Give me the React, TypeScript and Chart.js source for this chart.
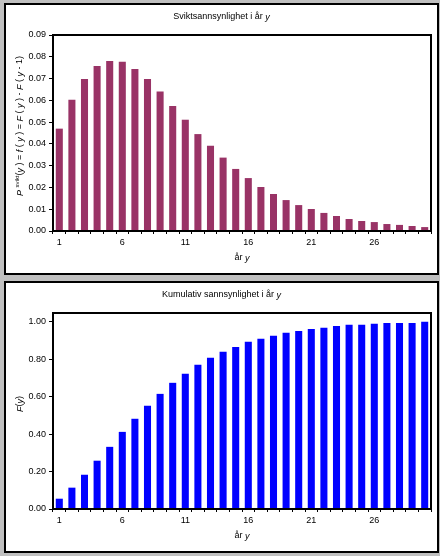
import React, { useEffect, useRef } from "react";
import { Chart, registerables } from "chart.js";

Chart.register(...registerables);

const years = ["1","2","3","4","5","6","7","8","9","10","11","12","13","14","15","16","17","18","19","20","21","22","23","24","25","26","27","28","29","30"];

const failureProb = [0.047,0.0603,0.0698,0.0758,0.0781,0.0777,0.0744,0.0698,0.064,0.0574,0.0511,0.0445,0.0392,0.0337,0.0285,0.0243,0.0202,0.017,0.0142,0.0119,0.0101,0.0083,0.0069,0.0055,0.0046,0.0041,0.0032,0.0028,0.0023,0.0018];

const cumulativeProb = [0.055,0.114,0.183,0.258,0.332,0.412,0.482,0.551,0.615,0.674,0.722,0.77,0.808,0.84,0.866,0.893,0.909,0.925,0.941,0.951,0.962,0.968,0.978,0.984,0.984,0.989,0.994,0.994,0.994,1.0];

const topYTicks = [0,0.01,0.02,0.03,0.04,0.05,0.06,0.07,0.08,0.09];
const bottomYTicks = [0,0.2,0.4,0.6,0.8,1.0];

const FONT = "'Liberation Sans', Arial, sans-serif";

type Seg = { t: string; it?: boolean; sup?: boolean };

function drawRich(ctx: CanvasRenderingContext2D, segs: Seg[], cx: number, cy: number, rot: number, size = 9) {
  ctx.save();
  ctx.translate(cx, cy);
  ctx.rotate(rot);
  ctx.fillStyle = "#000";
  ctx.textBaseline = "middle";
  ctx.textAlign = "left";
  const fontOf = (s: Seg) => `${s.it ? "italic " : ""}${s.sup ? size - 3 : size}px ${FONT}`;
  let total = 0;
  for (const s of segs) {
    ctx.font = fontOf(s);
    total += ctx.measureText(s.t).width;
  }
  let x = -total / 2;
  for (const s of segs) {
    ctx.font = fontOf(s);
    ctx.fillText(s.t, x, s.sup ? -3 : 0);
    x += ctx.measureText(s.t).width;
  }
  ctx.restore();
}

function makeChart(canvas: HTMLCanvasElement, data: number[], color: string, max: number, yTicks: number[], title: Seg[], yTitle: Seg[]) {
  const decor = {
    id: "decor",
    afterDraw(chart: any) {
      const ctx = chart.ctx as CanvasRenderingContext2D;
      const a = chart.chartArea;
      ctx.save();
      ctx.strokeStyle = "#000";
      ctx.lineWidth = 2;
      ctx.strokeRect(a.left, a.top, a.right - a.left, a.bottom - a.top);
      ctx.restore();
      drawRich(ctx, title, chart.width / 2, 12, 0);
      drawRich(ctx, [{ t: "år " }, { t: "y", it: true }], (a.left + a.right) / 2, 253, 0);
      drawRich(ctx, yTitle, 14, 121, -Math.PI / 2);
    },
  };
  return new Chart(canvas, {
    type: "bar",
    data: {
      labels: years,
      datasets: [
        {
          data,
          backgroundColor: color,
          borderWidth: 0,
          categoryPercentage: 1,
          barPercentage: 0.56,
        },
      ],
    },
    options: {
      animation: false,
      responsive: false,
      layout: { padding: { left: 0, top: 30, right: 6, bottom: 0 } },
      plugins: { legend: { display: false }, title: { display: false }, tooltip: { enabled: false } },
      scales: {
        x: {
          offset: true,
          grid: { offset: true, drawOnChartArea: false, color: "#000", lineWidth: 1, tickLength: 3 },
          border: { display: true, color: "#000", width: 2 },
          ticks: {
            autoSkip: false,
            maxRotation: 0,
            padding: 3,
            color: "#000",
            font: { family: FONT, size: 9 },
            callback: (_v: any, i: number) => (i % 5 === 0 ? years[i] : ""),
          },
          afterFit: (s: any) => {
            s.height = 42;
          },
        },
        y: {
          min: 0,
          max,
          grid: { drawOnChartArea: false, color: "#000", lineWidth: 1, tickLength: 4 },
          border: { display: true, color: "#000", width: 2 },
          ticks: {
            padding: 3,
            color: "#000",
            font: { family: FONT, size: 9 },
            callback: (v: any) => Number(v).toFixed(2),
          },
          afterBuildTicks: (s: any) => {
            s.ticks = yTicks.map((v) => ({ value: v }));
          },
          afterFit: (s: any) => {
            s.width = 47;
          },
        },
      },
    },
    plugins: [decor],
  } as any);
}

export default function App() {
  const topRef = useRef<HTMLCanvasElement>(null);
  const botRef = useRef<HTMLCanvasElement>(null);
  useEffect(() => {
    document.body.style.margin = "0";
    const c1 = makeChart(
      topRef.current!,
      failureProb,
      "#993366",
      0.09,
      topYTicks,
      [{ t: "Sviktsannsynlighet i år " }, { t: "y", it: true }],
      [
        { t: "P ", it: true },
        { t: "svikt", sup: true },
        { t: "(" },
        { t: "y", it: true },
        { t: " ) = " },
        { t: "f", it: true },
        { t: " ( " },
        { t: "y", it: true },
        { t: " ) = " },
        { t: "F", it: true },
        { t: " ( " },
        { t: "y", it: true },
        { t: " ) - " },
        { t: "F", it: true },
        { t: " ( " },
        { t: "y", it: true },
        { t: " - 1)" },
      ]
    );
    const c2 = makeChart(
      botRef.current!,
      cumulativeProb,
      "#0000FF",
      1.047,
      bottomYTicks,
      [{ t: "Kumulativ sannsynlighet i år " }, { t: "y", it: true }],
      [{ t: "F", it: true }, { t: "(" }, { t: "y", it: true }, { t: ")" }]
    );
    return () => {
      c1.destroy();
      c2.destroy();
    };
  }, []);
  const panel: React.CSSProperties = {
    position: "absolute",
    left: 4,
    width: 431,
    height: 268,
    border: "2px solid #000",
    background: "#fff",
  };
  return (
    <div style={{ position: "fixed", left: 0, top: 0, width: 440, height: 556, background: "#c0c0c0" }}>
      <div style={{ ...panel, top: 3 }}>
        <canvas ref={topRef} width={431} height={268} style={{ display: "block", width: 431, height: 268 }} />
      </div>
      <div style={{ ...panel, top: 281 }}>
        <canvas ref={botRef} width={431} height={268} style={{ display: "block", width: 431, height: 268 }} />
      </div>
    </div>
  );
}
